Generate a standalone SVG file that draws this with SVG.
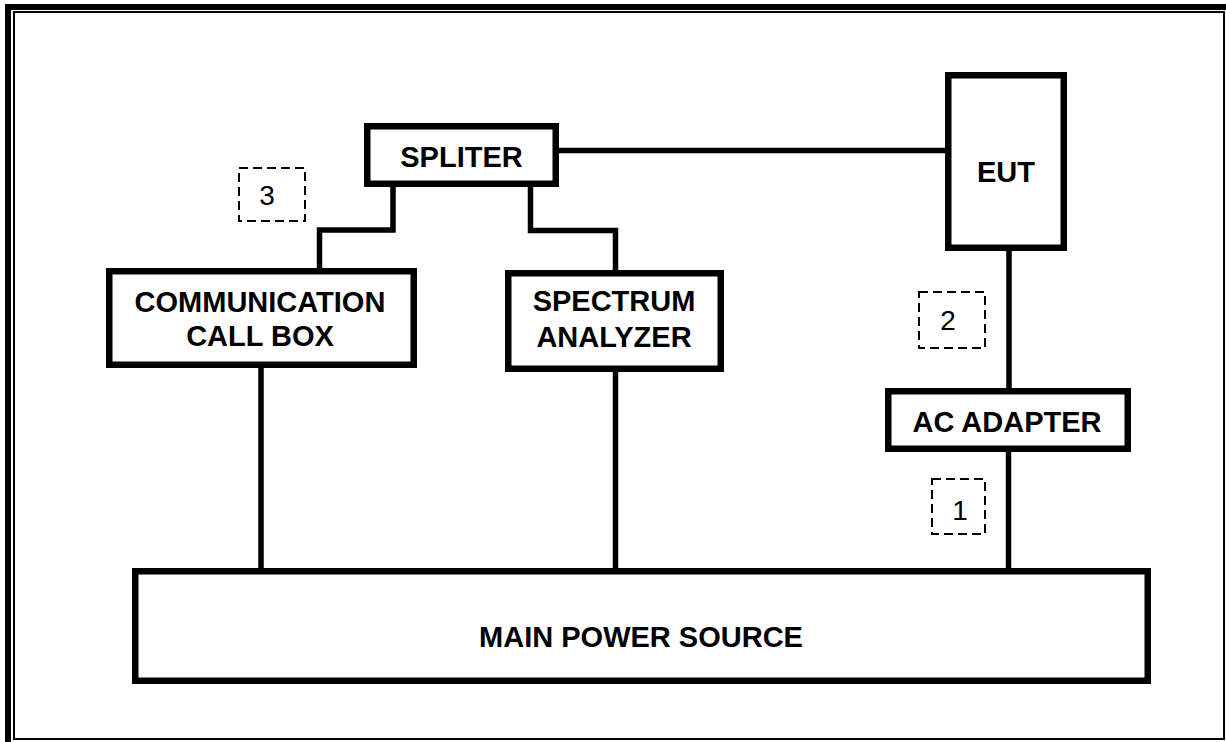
<svg xmlns="http://www.w3.org/2000/svg" width="1226" height="742" viewBox="0 0 1226 742">
<style>
.box{fill:#fff;stroke:#000;stroke-width:6.5}
.lbl{font-family:"Liberation Sans",Arial,sans-serif;font-weight:bold;font-size:29px;fill:#000;text-anchor:middle}
.dash{fill:none;stroke:#000;stroke-width:2;stroke-dasharray:9 5}
.num{font-family:"Liberation Sans",Arial,sans-serif;font-size:28px;fill:#000;text-anchor:middle}
.wire{fill:none;stroke:#000;stroke-width:5.5;stroke-linejoin:miter;stroke-linecap:butt}
</style>
<rect width="1226" height="742" fill="#fff"/>
<g id="frame">
<line x1="8" y1="4" x2="8" y2="742" stroke="#000" stroke-width="6"/>
<line x1="5" y1="7" x2="1226" y2="7" stroke="#000" stroke-width="6"/>
<rect x="14" y="12" width="1210" height="727" fill="none" stroke="#000" stroke-width="2"/>
</g>
<g id="connectors">
<path class="wire" d="M393 187 V230 H319.5 V268"/>
<path class="wire" d="M530.5 187 V230.5 H615.5 V270"/>
<path class="wire" d="M559 150.5 H945"/>
<path class="wire" d="M1009 251 V388"/>
<path class="wire" d="M1008.5 452 V568"/>
<path class="wire" d="M261 368 V568"/>
<path class="wire" d="M615.5 372 V568"/>
</g>
<g id="spliter">
<rect class="box" x="367.25" y="126.25" width="188.5" height="57.5"/>
<text class="lbl" x="461.5" y="167">SPLITER</text>
</g>
<g id="eut">
<rect class="box" x="948.25" y="75.25" width="115.5" height="172.5"/>
<text class="lbl" x="1006" y="182">EUT</text>
</g>
<g id="comm">
<rect class="box" x="109.25" y="271.25" width="304.5" height="93.5"/>
<text class="lbl" x="260" y="312">COMMUNICATION</text>
<text class="lbl" x="260" y="346">CALL BOX</text>
</g>
<g id="spectrum">
<rect class="box" x="508.25" y="273.25" width="212.5" height="95.5"/>
<text class="lbl" x="614" y="311">SPECTRUM</text>
<text class="lbl" x="614" y="347">ANALYZER</text>
</g>
<g id="adapter">
<rect class="box" x="888.25" y="391.25" width="239.5" height="57.5"/>
<text class="lbl" x="1007" y="432">AC ADAPTER</text>
</g>
<g id="power">
<rect class="box" x="135.25" y="571.25" width="1012.5" height="109.5"/>
<text class="lbl" x="641" y="647">MAIN POWER SOURCE</text>
</g>
<g id="tag3">
<rect class="dash" x="239" y="168" width="66" height="53"/>
<text class="num" x="267" y="205">3</text>
</g>
<g id="tag2">
<rect class="dash" x="919" y="292" width="66" height="56"/>
<text class="num" x="948" y="330">2</text>
</g>
<g id="tag1">
<rect class="dash" x="932" y="479" width="53" height="55"/>
<text class="num" x="960" y="520">1</text>
</g>
</svg>
